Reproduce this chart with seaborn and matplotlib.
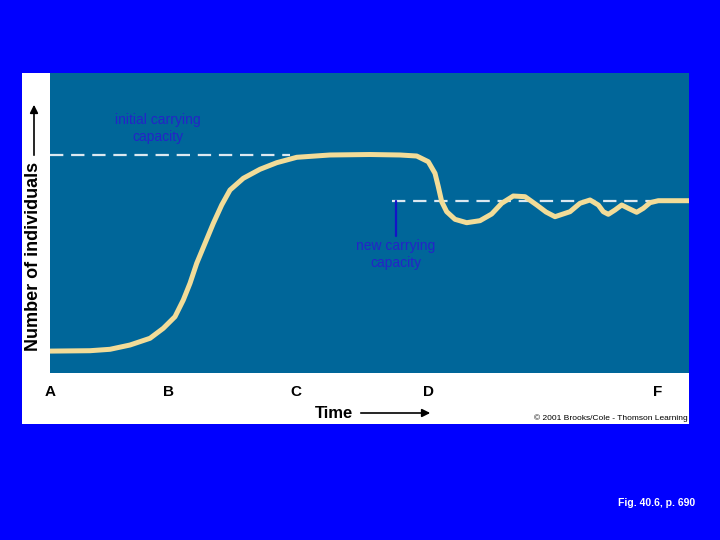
import matplotlib
matplotlib.use("Agg")
import matplotlib.pyplot as plt
from matplotlib.patches import Rectangle, FancyArrowPatch
import seaborn as sns
import pandas as pd

# curve (time units 0-100, population units 0-100)
time = [0, 6.26, 9.39, 12.52, 15.65, 17.73, 19.56, 20.86, 21.91, 22.96, 24.26, 25.56,
        26.87, 28.17, 30.25, 32.86, 35.48, 38.61, 43.82, 50.08, 54.77, 57.39, 59.2,
        60.25, 60.77, 61.3, 62.08, 63.38, 65.21, 67.29, 69.12, 70.69, 72.5, 74.34,
        76.17, 77.62, 79.03, 81.38, 82.94, 84.51, 85.81, 86.59, 87.37, 88.42, 89.47,
        90.5, 91.81, 92.85, 93.9, 95.19, 100]
individuals = [7.3, 7.43, 7.9, 9.33, 11.57, 14.9, 18.77, 24.33, 29.9, 36.57, 43.23, 49.9,
               56.0, 61.0, 64.9, 67.9, 70.1, 71.9, 72.67, 72.83, 72.67, 72.33, 70.43,
               66.57, 62.1, 57.1, 53.77, 51.23, 50.1, 50.77, 53.0, 56.57, 59.0, 58.77,
               56.0, 53.67, 52.1, 53.77, 56.57, 57.67, 56.0, 53.77, 52.9, 54.33, 56.0,
               54.9, 53.57, 54.9, 56.77, 57.43, 57.43]

initial_capacity = 72.7
new_capacity = 57.3

tick_pos = [0, 18.5, 38.5, 59.3, 95.1]
tick_labels = ["A", "B", "C", "D", "F"]

df = pd.DataFrame({"Time": time, "N": individuals})

sns.set_style("white")
plt.rcParams["font.family"] = ["Liberation Sans", "DejaVu Sans"]
plt.rcParams["text.color"] = "black"
plt.rcParams["xtick.color"] = "black"

W, H = 720, 540
fig = plt.figure(figsize=(7.2, 5.4), dpi=100, facecolor="#0000ff")

def fx(px):
    return px / W

def fy(py):
    return 1 - py / H

# white panel behind the chart
panel = Rectangle((fx(22), fy(424)), fx(689) - fx(22), fy(73) - fy(424),
                  transform=fig.transFigure, facecolor="white",
                  edgecolor="none", zorder=-5)
fig.patches.append(panel)

ax = fig.add_axes([fx(50), fy(373), fx(689) - fx(50), fy(73) - fy(373)])
ax.set_facecolor("#006699")

ax.plot([0, 37.6], [initial_capacity, initial_capacity], color="#dce8f0",
        lw=1.6, dashes=(6, 3.5))
ax.plot([53.5, 98.6], [new_capacity, new_capacity], color="#dce8f0",
        lw=1.6, dashes=(6, 3.5))
ax.plot([54.1, 54.1], [new_capacity, 45.7], color="#1414c8", lw=1.6)

sns.lineplot(data=df, x="Time", y="N", ax=ax, color="#f2dc98", lw=3.6,
             solid_joinstyle="round", solid_capstyle="round", sort=False)

ax.text(16.9, 81.6, "initial carrying\ncapacity", color="#2424c8", fontsize=10,
        ha="center", va="center", linespacing=1.3)
ax.text(54.1, 39.6, "new carrying\ncapacity", color="#2424c8", fontsize=10,
        ha="center", va="center", linespacing=1.3)

ax.set_xlim(0, 100)
ax.set_ylim(0, 100)
ax.set_xticks(tick_pos)
ax.set_xticklabels(tick_labels, fontsize=11, fontweight="bold")
ax.set_yticks([])
ax.tick_params(axis="x", length=0, pad=9)
ax.set_xlabel("")
ax.set_ylabel("")
for s in ax.spines.values():
    s.set_visible(False)

# axis titles with arrows
fig.text(fx(34), fy(256), "Number of individuals", rotation=90, fontsize=13,
         fontweight="bold", ha="center", va="center", color="black")
fig.text(fx(334), fy(414), "Time", fontsize=12, fontweight="bold",
         ha="center", va="center", color="black")
fig.text(fx(688), fy(418), "\u00a9 2001 Brooks/Cole - Thomson Learning", fontsize=6,
         ha="right", va="center", color="black")
for start, end in [((fx(34), fy(158)), (fx(34), fy(102))),
                   ((fx(358), fy(413)), (fx(433), fy(413)))]:
    fig.add_artist(FancyArrowPatch(start, end, transform=fig.transFigure,
                                   arrowstyle="-|>", color="black", lw=1.2,
                                   mutation_scale=12))

fig.text(fx(657), fy(503), "Fig. 40.6, p. 690", fontsize=7.5, fontweight="bold",
         color="white", ha="center", va="center")

fig.savefig("out.png", dpi=100, facecolor=fig.get_facecolor())
